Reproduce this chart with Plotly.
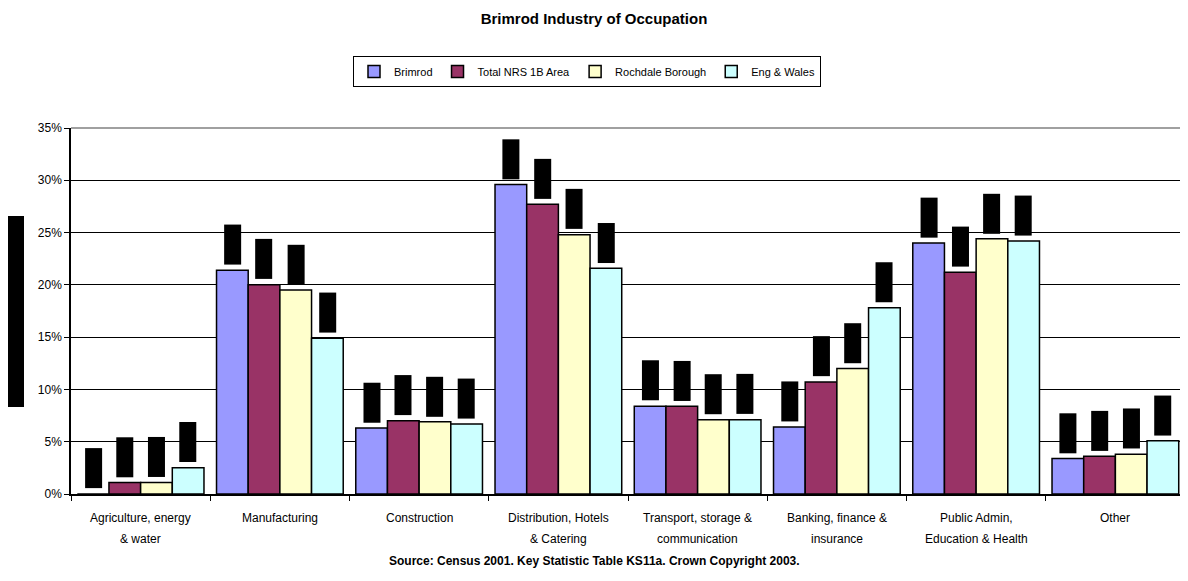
import plotly.graph_objects as go

categories = [
    "Agriculture, energy<br>& water",
    "Manufacturing",
    "Construction",
    "Distribution, Hotels<br>& Catering",
    "Transport, storage &<br>communication",
    "Banking, finance &<br>insurance",
    "Public Admin,<br>Education & Health",
    "Other",
]
series_names = ["Brimrod", "Total NRS 1B Area", "Rochdale Borough", "Eng & Wales"]
brimrod = [0.0, 21.4, 6.3, 29.6, 8.4, 6.4, 24.0, 3.4]
total_nrs = [1.1, 20.0, 7.0, 27.7, 8.4, 10.7, 21.2, 3.6]
rochdale = [1.1, 19.5, 6.9, 24.8, 7.1, 12.0, 24.4, 3.8]
eng_wales = [2.5, 14.9, 6.7, 21.6, 7.1, 17.8, 24.2, 5.1]
y_ticks = [0, 5, 10, 15, 20, 25, 30, 35]

series_values = [brimrod, total_nrs, rochdale, eng_wales]
colors = ["#9999FF", "#993366", "#FFFFCC", "#CCFFFF"]

FONT = "Liberation Sans, Arial, sans-serif"
# the page body has an 8px margin, so the figure is drawn 8px smaller and
# all reference pixel positions are shifted by OFF
OFF = 8
W, H = 1188 - OFF, 581 - OFF
PL, PR, PT, PB = 71 - OFF, 1185 - OFF, 128 - OFF, 494 - OFF
L, R, T, B = PL, W - PR, PT, H - PB
bargap = 0.09
n_series = len(series_names)
slot = (1 - bargap) / n_series

pw, ph = PR - PL, PB - PT
def px_x(x):
    return (x - OFF - PL) / pw
def px_y(y):
    return (PB - (y - OFF)) / ph

fig = go.Figure()
xs = list(range(len(categories)))
for name, vals, col in zip(series_names, series_values, colors):
    fig.add_trace(go.Bar(
        x=xs, y=vals, name=name,
        marker=dict(color=col, line=dict(color="black", width=1.5)),
    ))

annotations = []
# data labels (rendered as black boxes in the reference)
for k, vals in enumerate(series_values):
    for i, v in enumerate(vals):
        annotations.append(dict(
            x=i + (k - (n_series - 1) / 2) * slot, y=v, xref="x", yref="y",
            text=f"{v:.1f}%", textangle=-90, showarrow=False,
            xanchor="center", yanchor="bottom", yshift=5,
            font=dict(family=FONT, size=12, color="black"),
            bgcolor="black", borderpad=1, width=37, height=14,
        ))
# category labels
for i, c in enumerate(categories):
    lines = c.split("<br>")
    for j, line in enumerate(lines):
        annotations.append(dict(
            x=i, y=0, xref="x", yref="y", text=line, showarrow=False,
            xanchor="center", yanchor="middle", yshift=-24 - 21 * j,
            font=dict(family=FONT, size=12, color="black"),
        ))
annotations.append(dict(
    x=px_x(594), y=px_y(561), xref="paper", yref="paper",
    xanchor="center", yanchor="middle", showarrow=False,
    text="<b>Source: Census 2001. Key Statistic Table KS11a. Crown Copyright 2003.</b>",
    font=dict(family=FONT, size=12, color="black"),
))

shapes = [
    # y-axis title box (black in reference)
    dict(type="rect", xref="paper", yref="paper", x0=px_x(8), x1=px_x(24),
         y0=px_y(407), y1=px_y(216), fillcolor="black", line=dict(width=0)),
    # gray top and right frame
    dict(type="line", xref="paper", yref="paper", x0=0, x1=1, y0=1, y1=1,
         line=dict(color="#808080", width=1.5), layer="above"),
    dict(type="line", xref="paper", yref="paper", x0=1, x1=1, y0=0, y1=1,
         line=dict(color="#808080", width=1.5), layer="above"),
]

fig.update_layout(
    width=W, height=H,
    margin=dict(l=L, r=R, t=T, b=B, autoexpand=False),
    paper_bgcolor="white", plot_bgcolor="white",
    barmode="group", bargap=bargap, bargroupgap=0,
    title=dict(text="<b>Brimrod Industry of Occupation</b>", x=(594 - OFF) / W, xanchor="center",
               y=1 - (19 - OFF) / H, yanchor="middle",
               font=dict(family=FONT, size=15, color="black")),
    font=dict(family=FONT, size=11, color="black"),
    legend=dict(orientation="h", x=px_x(587), xanchor="center", y=px_y(56), yanchor="top",
                bordercolor="#000000", borderwidth=1, bgcolor="white",
                font=dict(family=FONT, size=11, color="black"),
                tracegroupgap=0),
    xaxis=dict(range=[-0.5, len(categories) - 0.5], tickvals=[i - 0.5 for i in range(len(categories) + 1)],
               showticklabels=False, ticks="outside", ticklen=5, tickcolor="black",
               showgrid=False, showline=True, linecolor="black", linewidth=1.5, zeroline=False),
    yaxis=dict(range=[0, 35], tickmode="array", tickvals=y_ticks,
               ticktext=[f"{t}%" for t in y_ticks], ticks="outside", ticklen=5,
               tickcolor="black", showgrid=True, gridcolor="#000000", gridwidth=1,
               showline=True, linecolor="black", linewidth=1.5, zeroline=False,
               tickfont=dict(family=FONT, size=12, color="black")),
    annotations=annotations,
    shapes=shapes,
    showlegend=True,
)

fig.write_html("out.html")
